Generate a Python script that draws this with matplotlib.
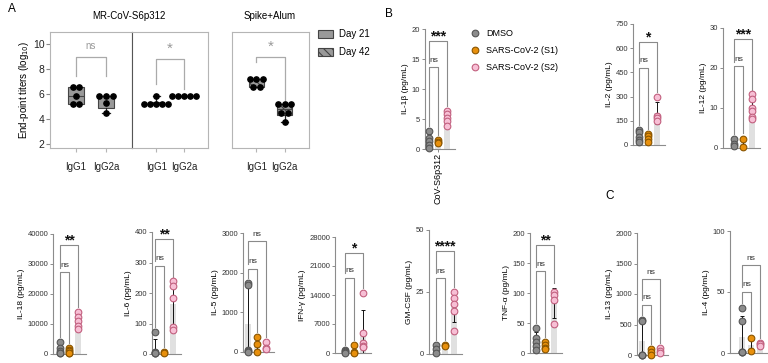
import numpy as np
import matplotlib
matplotlib.use("Agg")
import matplotlib.pyplot as plt
import matplotlib.patches as mpatches
from matplotlib.lines import Line2D

plt.rcParams['font.family'] = ['Liberation Sans', 'DejaVu Sans']
plt.rcParams['hatch.linewidth'] = 0.8
plt.rcParams['hatch.color'] = '#222222'

# === Panel A : end-point titers (log10)
ab_labels = ['IgG1', 'IgG2a']
mr_d21_igg1 = [5.25, 5.25, 5.9, 6.6, 6.6]
mr_d21_igg2a = [4.5, 5.3, 5.9, 5.9, 5.9]
mr_d42_igg1 = [5.2, 5.2, 5.2, 5.2, 5.2, 5.9]
mr_d42_igg2a = [5.9, 5.9, 5.9, 5.9, 5.9]
sa_d42_igg1 = [6.6, 6.6, 7.2, 7.2, 7.2]
sa_d42_igg2a = [3.8, 4.5, 4.5, 5.2, 5.2, 5.2]
a_sig = ['ns', '*', '*']

# === Panels B / C : cytokines (pg/mL)
cyto_names = ['IL-1β', 'IL-2', 'IL-12', 'IL-18', 'IL-6', 'IL-5', 'IFN-γ',
              'GM-CSF', 'TNF-α', 'IL-13', 'IL-4']
y_max = [20, 750, 30, 40000, 400, 3000, 28000, 50, 200, 2000, 100]
y_step = [5, 150, 10, 10000, 100, 1000, 7000, 25, 50, 500, 50]
dmso_vals = [
    [3.0, 1.8, 1.3, 0.6, 0.1],
    [95, 80, 50, 30, 20],
    [2.3, 1.0, 0.4],
    [4000, 2000, 1000, 500, 200],
    [72, 5, 4, 3, 2],
    [1750, 1700, 50, 20, 0],
    [800, 400, 200, 100],
    [3.6, 2.0, 0.6],
    [42, 25, 18, 11, 5],
    [580, 560, 5, 0, 0],
    [37, 26, 1, 0.5, 0.5],
]
s1_vals = [
    [1.5, 1.2, 1.0],
    [70, 55, 40, 20],
    [2.2, 0.3],
    [2000, 1500, 1000, 500, 200],
    [5, 3],
    [370, 200, 0],
    [1900, 300, 100],
    [3.5, 3.3],
    [18, 13, 9, 6],
    [95, 45, 0],
    [12, 1.5],
]
s2_vals = [
    [6.3, 5.8, 5.2, 4.6, 3.9],
    [300, 180, 165, 150],
    [13.4, 12.2, 10.0, 9.2, 7.8, 7.2],
    [14000, 12500, 11000, 9500, 8500],
    [238, 222, 184, 90, 78],
    [250, 110, 80],
    [14500, 4900, 2300, 1800, 1500],
    [24.9, 22.4, 20.2, 17.5, 9.4],
    [102, 96, 88, 48],
    [115, 60, 30],
    [8.5, 7.0, 5.5],
]
sig_s2 = ['***', '*', '***', '**', '**', 'ns', '*', '****', '**', 'ns', 'ns']
sig_s1 = ['ns'] * 11

# bracket heights (fraction of y range): lower (S1), upper (S2)
br_low = [0.68, 0.64, 0.68, 0.68, 0.72, 0.70, 0.65, 0.61, 0.68, 0.41, 0.50]
br_high = [0.90, 0.85, 0.91, 0.91, 0.94, 0.93, 0.86, 0.83, 0.90, 0.62, 0.72]

# layout in pixels: left spine x, first group x, top y, zero y
layout = [
    (425, 429, 29, 149), (633, 639, 24, 145), (723, 734, 28, 148),
    (53, 60, 234, 354), (152, 155, 232, 354), (243, 248, 233, 352),
    (335, 345, 237, 353), (429, 436, 230, 354), (530, 536, 233, 353),
    (637, 642, 233, 355), (730, 742, 231, 353),
]

group_face = ['#8c8c8c', '#e8900c', '#f7bfd5']
group_edge = ['#555555', '#8a5500', '#c2607f']
group_names = ['DMSO', 'SARS-CoV-2 (S1)', 'SARS-CoV-2 (S2)']

W, H = 768, 363
fig = plt.figure(figsize=(W / 100, H / 100), dpi=100)
fig.patch.set_facecolor('white')


def px_axes(x0, y0, x1, y1):
    return fig.add_axes([x0 / W, 1 - y1 / H, (x1 - x0) / W, (y1 - y0) / H])


def box_stats(vals):
    v = np.array(vals, dtype=float)
    q1, med, q3 = np.percentile(v, [25, 50, 75], method='weibull')
    return dict(med=med, q1=q1, q3=q3, whislo=v.min(), whishi=v.max(), fliers=[])


def swarm_x(vals, center, step=0.22):
    xs, ys = [], []
    for u in sorted(set(vals)):
        n = vals.count(u)
        offs = (np.arange(n) - (n - 1) / 2) * step
        xs += list(center + offs)
        ys += [u] * n
    return xs, ys


# === Panel A
a_axes = [px_axes(50, 32, 132, 148), px_axes(132, 32, 208, 148), px_axes(232, 32, 309, 148)]
a_data = [(mr_d21_igg1, mr_d21_igg2a, False),
          (mr_d42_igg1, mr_d42_igg2a, True),
          (sa_d42_igg1, sa_d42_igg2a, True)]

for k, (ax, (g1, g2, hatched)) in enumerate(zip(a_axes, a_data)):
    bp = ax.bxp([box_stats(g1), box_stats(g2)], positions=[0, 1], widths=0.55,
                patch_artist=True, showfliers=False, capwidths=0.25,
                boxprops=dict(facecolor='#999999', edgecolor='#444444', linewidth=0.8),
                medianprops=dict(color='#444444', linewidth=0.8),
                whiskerprops=dict(color='#222222', linewidth=0.9),
                capprops=dict(color='#222222', linewidth=0.9))
    if hatched:
        for b in bp['boxes']:
            b.set_hatch('\\\\\\\\')
    for pos, g in enumerate([g1, g2]):
        xs, ys = swarm_x(list(g), pos)
        ax.plot(xs, ys, 'o', ms=3.8, color='black', zorder=4, clip_on=False)

    ax.set_xlim(-0.87, 1.87)
    ax.set_ylim(1.7, 11)
    for s in ax.spines.values():
        s.set_color('#b5b5b5')
        s.set_linewidth(0.8)
    ax.set_xticks([0, 1])
    ax.set_xticklabels(ab_labels, fontsize=7, color='#222222')
    ax.tick_params(axis='x', length=3, color='#b5b5b5', pad=7)
    if k == 0:
        ax.set_yticks([2, 4, 6, 8, 10])
        ax.tick_params(axis='y', length=3, color='#888888', labelsize=7.5,
                       labelcolor='#222222', pad=1)
    else:
        ax.set_yticks([])
    if k == 1:
        ax.spines['left'].set_color('#555555')

    # significance bracket
    y_top = 9.0 if k != 1 else 8.87
    leg_l = [7.45, 6.85, 8.6][k]
    leg_r = [7.45, 6.45, 5.55][k]
    ax.plot([0, 0, 1, 1], [leg_l, y_top, y_top, leg_r], color='#aaaaaa', lw=0.9)
    if a_sig[k] == 'ns':
        ax.text(0.5, y_top + 0.5, 'ns', ha='center', va='bottom', fontsize=7, color='#999999')
    else:
        ax.text(0.5, y_top + 0.25, a_sig[k], ha='center', va='bottom', fontsize=11,
                color='#999999')

fig.text(129 / W, 1 - 16 / H, 'MR-CoV-S6p312', ha='center', va='center', fontsize=7)
fig.text(270 / W, 1 - 16 / H, 'Spike+Alum', ha='center', va='center', fontsize=7)
fig.text(24 / W, 1 - 90 / H, 'End-point titers (log$_{10}$)', rotation=90,
         ha='center', va='center', fontsize=7)

a_handles = [mpatches.Patch(facecolor='#999999', edgecolor='#444444', lw=0.8, label='Day 21'),
             mpatches.Patch(facecolor='#999999', edgecolor='#444444', lw=0.8,
                            hatch='\\\\\\\\', label='Day 42')]
fig.legend(handles=a_handles, loc='upper left', bbox_to_anchor=(318 / W, 1 - 29 / H),
           frameon=False, fontsize=7, handlelength=1.5, handleheight=0.9,
           labelspacing=0.85, handletextpad=0.7, borderpad=0, borderaxespad=0)

# === Panels B / C
for i, name in enumerate(cyto_names):
    sx, gx, ty, zy = layout[i]
    left = -(gx - sx) / 9.0
    right = 2.9
    ax = px_axes(sx, ty, sx + (right - left) * 9.0, zy)
    ym = y_max[i]
    groups = [dmso_vals[i], s1_vals[i], s2_vals[i]]
    tops = []
    for g, vals in enumerate(groups):
        v = np.array(vals, dtype=float)
        m, sd = v.mean(), v.std(ddof=1) if len(v) > 1 else 0.0
        ax.bar(g, m, width=0.65, color='#e0e0e0', zorder=1)
        ax.errorbar(g, m, yerr=[[min(sd, m)], [sd]], fmt='none', ecolor='#111111',
                    elinewidth=0.7, capsize=1.5, capthick=0.7, zorder=2)
        ax.plot([g] * len(v), v, 'o', ms=4.8, mfc=group_face[g], mec=group_edge[g],
                mew=0.8, zorder=3, clip_on=False)
        tops.append(max(v.max(), m + sd))

    gap = 0.04 * ym
    yl = br_low[i] * ym
    yh = br_high[i] * ym
    bc = '#8a8a8a'
    ax.plot([0, 0, 1, 1], [tops[0] + gap, yl, yl, tops[1] + gap], color=bc, lw=0.8,
            clip_on=False)
    ax.plot([0, 0, 2, 2], [yl + gap, yh, yh, tops[2] + gap], color=bc, lw=0.8,
            clip_on=False)
    ax.text(0.5, yl + 0.03 * ym, sig_s1[i], ha='center', va='bottom', fontsize=6,
            color='#333333')
    if sig_s2[i] == 'ns':
        ax.text(1.0, yh + 0.03 * ym, 'ns', ha='center', va='bottom', fontsize=6,
                color='#333333', clip_on=False)
    else:
        ax.text(1.0, yh - 0.02 * ym, sig_s2[i], ha='center', va='bottom', fontsize=10,
                fontweight='bold', color='#111111', clip_on=False)

    ax.set_xlim(left, right)
    ax.set_ylim(0, ym)
    ax.set_yticks(np.arange(0, ym + 1e-9, y_step[i]))
    ax.set_yticklabels([f'{t:g}' for t in np.arange(0, ym + 1e-9, y_step[i])])
    for s in ['top', 'right']:
        ax.spines[s].set_visible(False)
    for s in ['left', 'bottom']:
        ax.spines[s].set_color('#8c8c8c')
        ax.spines[s].set_linewidth(0.8)
    ax.tick_params(axis='y', length=2.5, width=0.7, color='#8c8c8c', labelsize=5.5,
                   labelcolor='#333333', pad=1)
    if i == 0:
        ax.set_xticks([1])
        ax.set_xticklabels(['CoV-S6p312'], rotation=90, fontsize=6.5)
        ax.tick_params(axis='x', length=2, width=0.7, color='#8c8c8c', pad=1)
    else:
        ax.set_xticks([])
    ax.set_ylabel(f'{name} (pg/mL)', fontsize=6, labelpad=2)
    ax.patch.set_alpha(0)

b_handles = [Line2D([], [], ls='none', marker='o', ms=4.8, mfc=group_face[g],
                    mec=group_edge[g], mew=0.8, label=group_names[g]) for g in range(3)]
fig.legend(handles=b_handles, loc='upper left', bbox_to_anchor=(470 / W, 1 - 29 / H),
           frameon=False, fontsize=6.5, handlelength=1.0, labelspacing=0.9,
           handletextpad=0.8, borderpad=0, borderaxespad=0)

fig.text(8 / W, 1 - 9 / H, 'A', fontsize=8.5, ha='left', va='center')
fig.text(385 / W, 1 - 14 / H, 'B', fontsize=8.5, ha='left', va='center')
fig.text(605 / W, 1 - 196 / H, 'C', fontsize=8.5, ha='left', va='center')

fig.savefig('out.png', dpi=100)
